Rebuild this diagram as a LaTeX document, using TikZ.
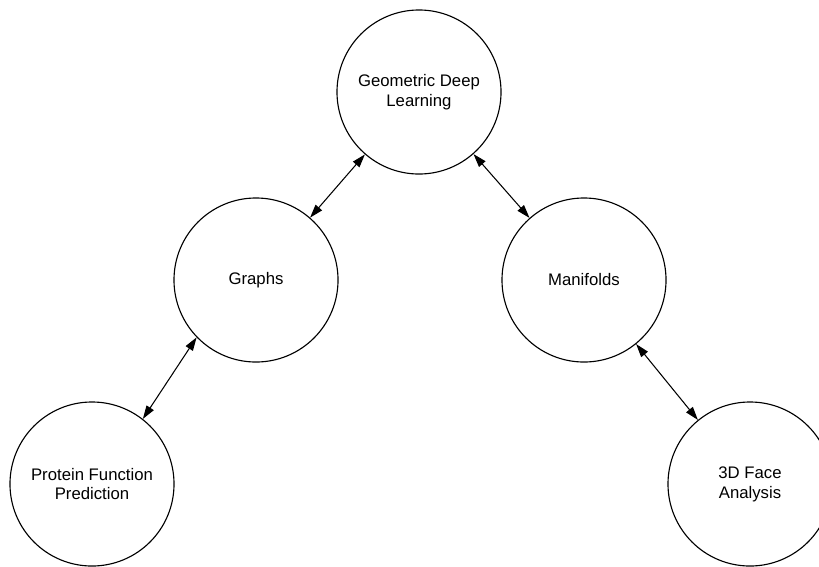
\documentclass[tikz,border=0pt]{standalone}
\usepackage{fontspec}
\setmainfont{Liberation Sans}
\usetikzlibrary{arrows.meta}

\begin{document}
\begin{tikzpicture}[x=0.025cm, y=-0.025cm,
  topic/.style={circle, draw=black, line width=0.8pt, minimum size=4.1cm, inner sep=0pt, align=center, font=\fontsize{11.9}{14.2}\selectfont},
  link/.style={{Triangle[length=9.5pt,width=6pt]}-{Triangle[length=9.5pt,width=6pt]}, line width=0.75pt}]
\useasboundingbox (0, 0) rectangle (819, 566);
\clip (0, 0) rectangle (819, 566);
\node[topic] (gdl) at (419, 92) {Geometric Deep\\Learning};
\node[topic] (graphs) at (256, 280) {Graphs};
\node[topic] (manifolds) at (584, 280) {Manifolds};
\node[topic] (protein) at (92, 484) {Protein Function\\Prediction};
\node[topic] (face) at (750, 484) {3D Face\\Analysis};
\draw[link] (graphs) -- (gdl);
\draw[link] (gdl) -- (manifolds);
\draw[link] (protein.52) -- (graphs.224);
\draw[link] (manifolds) -- (face);
\end{tikzpicture}
\end{document}
